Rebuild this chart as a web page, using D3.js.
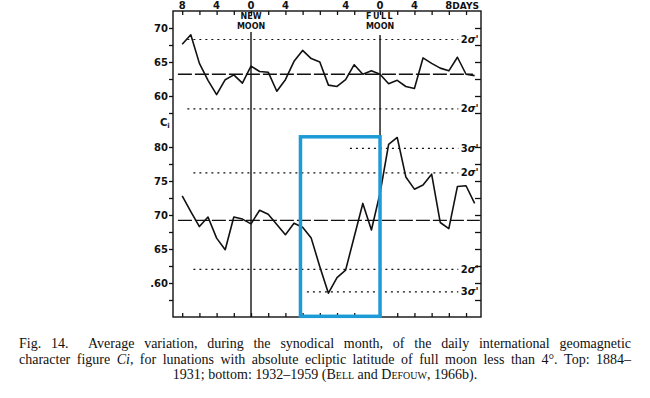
<!DOCTYPE html>
<html>
<head>
<meta charset="utf-8">
<script src="https://cdn.jsdelivr.net/npm/d3@7"></script>
<style>
  body { margin: 0; background: #fff; }
  svg { display: block; }
</style>
</head>
<body>
<svg id="chart" width="650" height="398"></svg>
<script>
// days counted from new moon; full moon sits at day 15
const days = d3.range(-8, 27);
const ciTop = [67.6, 69.0, 64.8, 62.3, 60.2, 62.4, 63.1, 61.9, 64.4, 63.6, 63.5, 60.7,
  62.4, 65.1, 66.7, 65.5, 65.0, 61.6, 61.4, 62.4, 64.6, 63.2, 63.7, 63.2, 61.8, 62.3,
  61.4, 61.1, 65.6, 64.8, 64.1, 63.7, 65.7, 63.2, 63.0];
const ciBottom = [72.8, 70.5, 68.3, 69.7, 66.6, 64.9, 69.7, 69.4, 68.7, 70.7, 70.1, 68.6,
  67.1, 68.8, 68.2, 66.6, 62.4, 58.5, 60.8, 61.9, 66.8, 71.7, 67.8, 73.2, 80.4, 81.4,
  75.6, 73.8, 74.4, 76.0, 68.9, 68.0, 74.2, 74.3, 71.7];

const moonDays = [0, 15];
const moonNames = [["NEW", "MOON"], ["FULL", "MOON"]];
const dayLabelAt = [-8, -4, 0, 4, 11, 15, 19, 23];
const dayLabels = ["8", "4", "0", "4", "4", "0", "4", "8"];
const dayTicks = [-8, -6, -4, -2, 0, 2, 4, 6, 8, 10, 12, 15, 17, 19, 21, 23, 25];

const topTicks = [57.5, 60, 62.5, 65, 67.5, 70];
const bottomTicks = [57.5, 60, 62.5, 65, 67.5, 70, 72.5, 75, 77.5, 80];
const bottomLabels = { 60: ".60", 65: "65", 70: "70", 75: "75", 80: "80" };

// mean and sigma levels: [value, from day, to day, label]
const topMean = [63.2, -8.5, 25.8];
const bottomMean = [69.2, -8.5, 26.6];
const topSigma = [[68.3, -7.4, 24.1, "2"], [58.1, -7.4, 24.1, "2"]];
const bottomSigma = [[79.8, 11.5, 24.1, "3"], [76.2, -6.7, 24.1, "2"],
  [62.0, -6.7, 24.1, "2"], [58.7, 6.5, 24.1, "3"]];

// highlight box: days and Ci on the lower scale
const boxDays = [5.75, 15];
const boxCi = [81.5, 55.1];

const svg = d3.select("#chart");
const x = d3.scaleLinear().domain([-9.07, 26.74]).range([173, 481]);
const yTop = d3.scaleLinear().domain([55, 72.5]).range([130, 11]);
const yBot = d3.scaleLinear().domain([55, 82.5]).range([317, 130]);

const ink = "#111";
const labelFont = "DejaVu Sans, sans-serif";

// frame
svg.append("rect")
  .attr("x", x.range()[0]).attr("y", yTop.range()[1])
  .attr("width", x.range()[1] - x.range()[0])
  .attr("height", yBot.range()[0] - yTop.range()[1])
  .attr("fill", "none").attr("stroke", ink).attr("stroke-width", 1.4);

function styleAxis(g) {
  g.select(".domain").remove();
  g.selectAll(".tick line").attr("stroke", ink).attr("stroke-width", 1.3);
  g.selectAll(".tick text").attr("fill", ink)
    .style("font-family", labelFont).style("font-weight", "bold").style("font-size", "10px");
}

// day ticks, top and bottom, pointing inward
svg.append("g").attr("transform", `translate(0,${yTop.range()[1]})`)
  .call(d3.axisTop(x).tickValues(dayTicks).tickSize(-4).tickFormat(""))
  .call(styleAxis);
svg.append("g").attr("transform", `translate(0,${yBot.range()[0]})`)
  .call(d3.axisBottom(x).tickValues(dayTicks).tickSize(-4).tickFormat(""))
  .call(styleAxis);

svg.append("g").selectAll("text").data(dayLabelAt).join("text")
  .attr("x", d => x(d)).attr("y", 8.5)
  .attr("text-anchor", "middle")
  .style("font-family", labelFont).style("font-weight", "bold").style("font-size", "10px")
  .attr("fill", ink)
  .text((d, i) => dayLabels[i]);
svg.append("text")
  .attr("x", x(dayLabelAt[dayLabelAt.length - 1]) + 3.5).attr("y", 8.5)
  .style("font-family", labelFont).style("font-weight", "bold").style("font-size", "9px")
  .attr("fill", ink).text("DAYS");

// Ci axes, left labelled, right ticks only
svg.append("g").attr("transform", `translate(${x.range()[0]},0)`)
  .call(d3.axisLeft(yTop).tickValues(topTicks).tickSize(4).tickPadding(1)
    .tickFormat(d => d % 5 === 0 ? d : ""))
  .call(styleAxis);
svg.append("g").attr("transform", `translate(${x.range()[0]},0)`)
  .call(d3.axisLeft(yBot).tickValues(bottomTicks).tickSize(4).tickPadding(1)
    .tickFormat(d => bottomLabels[d] || ""))
  .call(styleAxis);
svg.append("g").attr("transform", `translate(${x.range()[1]},0)`)
  .call(d3.axisRight(yTop).tickValues(topTicks).tickSize(-6).tickFormat(""))
  .call(styleAxis);
svg.append("g").attr("transform", `translate(${x.range()[1]},0)`)
  .call(d3.axisRight(yBot).tickValues(bottomTicks).tickSize(-6).tickFormat(""))
  .call(styleAxis);

const ciLabel = svg.append("text").attr("x", 160).attr("y", 126)
  .style("font-family", labelFont).style("font-weight", "bold").style("font-size", "10px")
  .attr("fill", ink);
ciLabel.append("tspan").text("C");
ciLabel.append("tspan").attr("dy", 2).style("font-size", "7px").text("i");

// moon lines and names
svg.append("g").selectAll("line").data(moonDays).join("line")
  .attr("x1", d => x(d)).attr("x2", d => x(d))
  .attr("y1", (d, i) => i === 0 ? 32 : 35).attr("y2", yBot.range()[0])
  .attr("stroke", ink).attr("stroke-width", 1.4);
moonDays.forEach((d, i) => {
  moonNames[i].forEach((w, j) => {
    svg.append("text")
      .attr("x", x(d)).attr("y", 19 + j * 10)
      .attr("text-anchor", "middle")
      .style("font-family", labelFont).style("font-weight", "bold").style("font-size", "8px")
      .style("letter-spacing", i === 1 && j === 0 ? "1.5px" : "0px")
      .attr("fill", ink).text(w);
  });
});

// reference levels
function meanLine(m, y) {
  svg.append("line")
    .attr("x1", x(m[1])).attr("x2", x(m[2]))
    .attr("y1", y(m[0])).attr("y2", y(m[0]))
    .attr("stroke", ink).attr("stroke-width", 1.3)
    .attr("stroke-dasharray", "14,3");
}
function sigmaLines(rows, y) {
  const g = svg.append("g");
  g.selectAll("line").data(rows).join("line")
    .attr("x1", d => x(d[1])).attr("x2", d => x(d[2]))
    .attr("y1", d => y(d[0])).attr("y2", d => y(d[0]))
    .attr("stroke", ink).attr("stroke-width", 1.1)
    .attr("stroke-dasharray", "2,4");
  const t = g.selectAll("text").data(rows).join("text")
    .attr("x", d => x(d[2]) + 2.5).attr("y", d => y(d[0]) + 3.5)
    .style("font-family", labelFont).style("font-weight", "bold").style("font-size", "10px")
    .attr("fill", ink);
  t.append("tspan").text(d => d[3]);
  t.append("tspan").style("font-style", "italic").text("σ'");
}
meanLine(topMean, yTop);
meanLine(bottomMean, yBot);
sigmaLines(topSigma, yTop);
sigmaLines(bottomSigma, yBot);

// curves
const lineTop = d3.line().x((d, i) => x(days[i])).y(d => yTop(d));
const lineBot = d3.line().x((d, i) => x(days[i])).y(d => yBot(d));
svg.append("path").datum(ciTop).attr("d", lineTop)
  .attr("fill", "none").attr("stroke", ink).attr("stroke-width", 1.6)
  .attr("stroke-linejoin", "round");
svg.append("path").datum(ciBottom).attr("d", lineBot)
  .attr("fill", "none").attr("stroke", ink).attr("stroke-width", 1.6)
  .attr("stroke-linejoin", "round");

// highlight box
svg.append("rect")
  .attr("x", x(boxDays[0])).attr("y", yBot(boxCi[0]))
  .attr("width", x(boxDays[1]) - x(boxDays[0]))
  .attr("height", yBot(boxCi[1]) - yBot(boxCi[0]))
  .attr("fill", "none").attr("stroke", "#1d9bd6").attr("stroke-width", 3.5);

// caption
const capFont = "Liberation Serif, Times New Roman, serif";
const capSize = "14px";
const capLeft = 19, capRight = 631;
const capLines = [
  "Fig. 14.| Average variation, during the synodical month, of the daily international geomagnetic",
  "character figure _Ci_, for lunations with absolute ecliptic latitude of full moon less than 4°. Top: 1884–"
];
function justifyLine(str, yb) {
  const g = svg.append("g");
  const words = str.split(" ");
  const extra = words.map(w => w.endsWith("|") ? 1 : 0);
  const nodes = words.map(w => {
    const t = g.append("text").attr("y", yb)
      .style("font-family", capFont).style("font-size", capSize).attr("fill", ink);
    w.replace("|", "").split(/(_[^_]+_)/).filter(s => s.length).forEach(s => {
      if (s.startsWith("_")) t.append("tspan").style("font-style", "italic").text(s.slice(1, -1));
      else t.append("tspan").text(s);
    });
    return t;
  });
  const widths = nodes.map(n => n.node().getComputedTextLength());
  const gap = (capRight - capLeft - d3.sum(widths)) / (words.length - 1 + d3.sum(extra));
  let cx = capLeft;
  nodes.forEach((n, i) => {
    n.attr("x", cx);
    cx += widths[i] + gap * (1 + extra[i]);
  });
}
capLines.forEach((s, i) => justifyLine(s, 348 + i * 15.5));

const last = svg.append("text")
  .attr("x", (capLeft + capRight) / 2).attr("y", 379)
  .attr("text-anchor", "middle")
  .style("font-family", capFont).style("font-size", capSize).attr("fill", ink);
last.append("tspan").text("1931; bottom: 1932–1959 (B");
last.append("tspan").style("font-variant", "small-caps").text("ell");
last.append("tspan").text(" and D");
last.append("tspan").style("font-variant", "small-caps").text("efouw");
last.append("tspan").text(", 1966b).");
</script>
</body>
</html>
